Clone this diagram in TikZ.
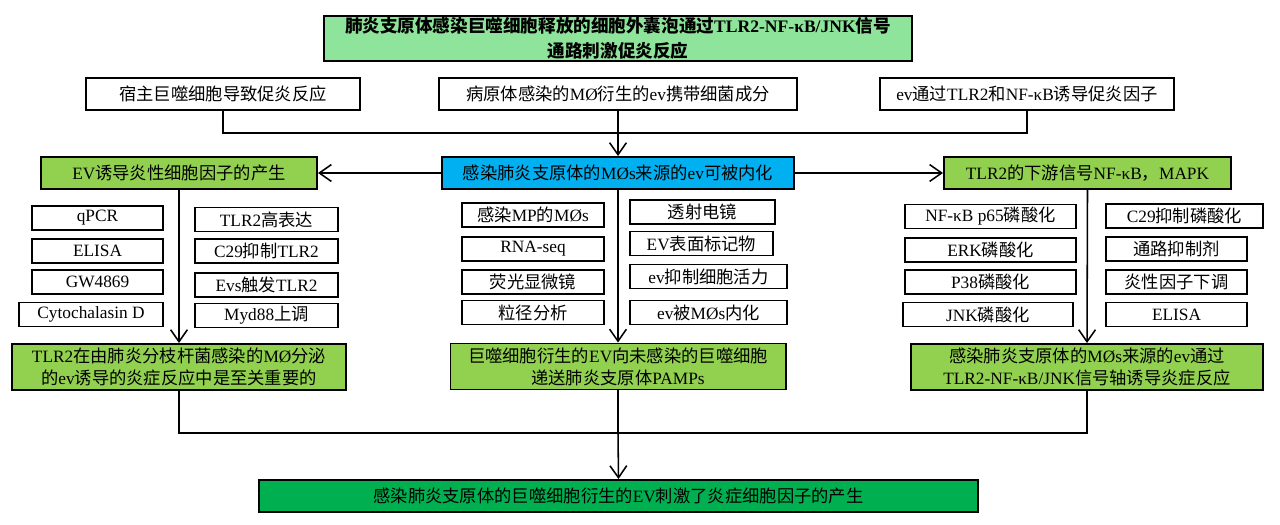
\documentclass[tikz,border=0pt]{standalone}
\usepackage{fontspec}
\setmainfont{Liberation Serif}
\newfontfamily\cjkfont{Noto Sans CJK SC}
\usepackage{xcolor}
\usepackage{tikz}
\usetikzlibrary{arrows.meta}

% CJK characters switch to the CJK family, everything else stays Times-like
\XeTeXinterchartokenstate=1
\newXeTeXintercharclass\cjkcls
\count255="3000
\loop \XeTeXcharclass\count255=\cjkcls \advance\count255 by 1 \ifnum\count255<"A000 \repeat
\count255="FF00
\loop \XeTeXcharclass\count255=\cjkcls \advance\count255 by 1 \ifnum\count255<"FFF0 \repeat
\XeTeXinterchartoks 0 \cjkcls = {\cjkfont}
\XeTeXinterchartoks 4095 \cjkcls = {\cjkfont}
\XeTeXinterchartoks \cjkcls 0 = {\rmfamily}
\XeTeXinterchartoks \cjkcls 4095 = {\rmfamily}

\definecolor{titelgruen}{RGB}{142,228,154}
\definecolor{hellgruen}{RGB}{146,208,80}
\definecolor{blau}{RGB}{0,176,240}
\definecolor{dunkelgruen}{RGB}{0,176,80}

\begin{document}
\begin{tikzpicture}[
  x = 0.025cm, y = -0.025cm,
  font = \fontsize{12.3}{15.5}\selectfont,
  kasten/.style = {draw, line width=1.35pt, inner sep=1pt, align=center, minimum height=0.8cm},
  klein/.style = {kasten, minimum height=0.6cm},
  gross/.style = {kasten, fill=hellgruen, minimum height=1.15cm},
  linie/.style = {line width=1.1pt},
  pfeil/.style = {linie, -{Straight Barb[length=3mm, width=4.2mm, line width=1.1pt]}},
]
\useasboundingbox (0,0) rectangle (1280,525);
% title and top row
\node[kasten, fill=titelgruen, minimum width=14.7cm, minimum height=1.125cm, font=\fontsize{12.5}{18}\selectfont\bfseries] (titel) at (618,38.5) {肺炎支原体感染巨噬细胞释放的细胞外囊泡通过TLR2-NF-κB/JNK信号\\通路刺激促炎反应};
\node[kasten, minimum width=6.85cm] (wirt) at (223,94) {宿主巨噬细胞导致促炎反应};
\node[kasten, minimum width=8.95cm] (erreger) at (618,94) {病原体感染的MØ衍生的ev携带细菌成分};
\node[kasten, minimum width=7.35cm] (tlr) at (1027,94) {ev通过TLR2和NF-κB诱导促炎因子};
\coordinate (oben) at (618,133);
% second row
\node[kasten, fill=blau, minimum width=8.8cm] (mitte) at (618,173) {感染肺炎支原体的MØs来源的ev可被内化};
\node[kasten, fill=hellgruen, minimum width=6.9cm] (links) at (179,173) {EV诱导炎性细胞因子的产生};
\node[kasten, fill=hellgruen, minimum width=7.175cm] (rechts) at (1087.5,173) {TLR2的下游信号NF-κB，MAPK};
% left column
\node[klein, minimum width=3.275cm] (l1) at (97.5,218) {qPCR};
\node[klein, minimum width=3.275cm] (l2) at (97.5,251) {ELISA};
\node[klein, minimum width=3.275cm] (l3) at (97.5,282) {GW4869};
\node[klein, minimum width=3.6cm] (l4) at (91,314.5) {Cytochalasin D};
\node[klein, minimum width=3.575cm] (l5) at (266.5,219.5) {TLR2高表达};
\node[klein, minimum width=3.575cm] (l6) at (266.5,251) {C29抑制TLR2};
\node[klein, minimum width=3.575cm] (l7) at (266.5,285) {Evs触发TLR2};
\node[klein, minimum width=3.575cm] (l8) at (266.5,315.5) {Myd88上调};
\node[gross, minimum width=8.35cm] (lunten) at (179,367) {TLR2在由肺炎分枝杆菌感染的MØ分泌\\的ev诱导的炎症反应中是至关重要的};
% middle column
\node[klein, minimum width=3.55cm] (m1) at (533,215) {感染MP的MØs};
\node[klein, minimum width=3.55cm] (m2) at (533,249) {RNA-seq};
\node[klein, minimum width=3.55cm] (m3) at (533,282) {荧光显微镜};
\node[klein, minimum width=3.55cm] (m4) at (533,312.5) {粒径分析};
\node[klein, minimum width=3.625cm] (m5) at (702.5,212) {透射电镜};
\node[klein, minimum width=3.575cm] (m6) at (701.5,243.5) {EV表面标记物};
\node[klein, minimum width=3.925cm] (m7) at (708.5,276.5) {ev抑制细胞活力};
\node[klein, minimum width=3.925cm] (m8) at (708.5,312.5) {ev被MØs内化};
\node[gross, minimum width=8.375cm] (munten) at (618,366.5) {巨噬细胞衍生的EV向未感染的巨噬细胞\\递送肺炎支原体PAMPs};
% right column
\node[klein, minimum width=4.275cm] (r1) at (990.5,216.5) {NF-κB p65磷酸化};
\node[klein, minimum width=4.275cm] (r2) at (990.5,250) {ERK磷酸化};
\node[klein, minimum width=4.275cm] (r3) at (990.5,282) {P38磷酸化};
\node[klein, minimum width=4.25cm] (r4) at (988,314.5) {JNK磷酸化};
\node[klein, minimum width=3.925cm] (r5) at (1184.5,216) {C29抑制磷酸化};
\node[klein, minimum width=3.525cm] (r6) at (1176.5,249) {通路抑制剂};
\node[klein, minimum width=3.525cm] (r7) at (1176.5,282) {炎性因子下调};
\node[klein, minimum width=3.525cm] (r8) at (1176.5,314.5) {ELISA};
\node[gross, minimum width=8.8cm] (runten) at (1087,367) {感染肺炎支原体的MØs来源的ev通过\\TLR2-NF-κB/JNK信号轴诱导炎症反应};
% result
\coordinate (unten) at (618,433);
\node[kasten, fill=dunkelgruen, minimum width=17.975cm] (ergebnis) at (618.5,496) {感染肺炎支原体的巨噬细胞衍生的EV刺激了炎症细胞因子的产生};
% connectors
\draw[linie] (wirt.south) |- (oben) -| (tlr.south);
\draw[pfeil] (erreger.south) -- (mitte.north);
\draw[pfeil] (mitte.west) -- (links.east);
\draw[pfeil] (mitte.east) -- (rechts.west);
\draw[pfeil] (links.south) -- (lunten.north);
\draw[pfeil] (mitte.south) -- (munten.north);
\draw[pfeil] (rechts.south) -- (runten.north);
\draw[linie] (lunten.south) |- (unten) -| (runten.south);
\draw[linie] (munten.south) -- (unten);
\draw[pfeil] (unten) -- (ergebnis.north);
\end{tikzpicture}
\end{document}
